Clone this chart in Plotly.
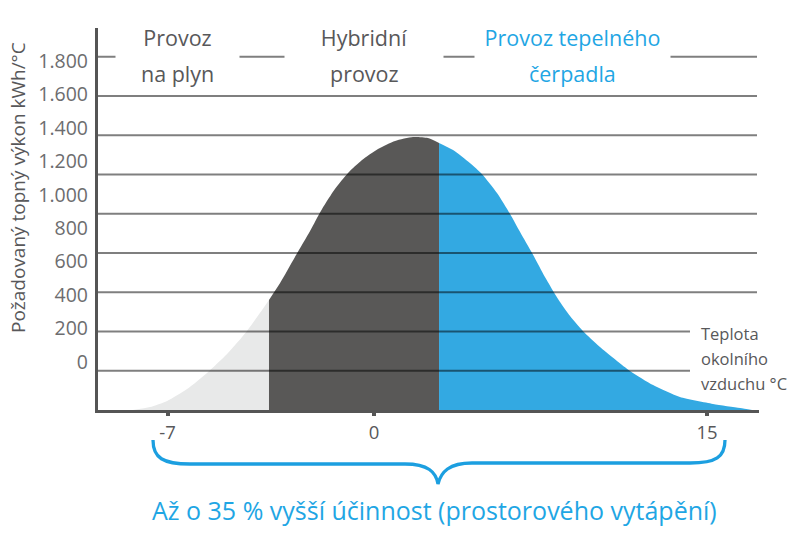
import plotly.graph_objects as go

# ---------------- data ----------------
# outdoor temperature (nominal axis units) and required heating load (kWh/°C)
temp_gas = [-10.86, -10.09, -9.32, -8.42, -7.52, -6.62, -5.72, -5.14, -4.73]
load_gas = [0, 15, 46, 107, 189, 285, 403, 494, 561]

temp_hybrid = [-4.73, -4.23, -3.56, -2.88, -2.34, -1.76, -1.17, -0.54, 0.18, 0.95, 1.76, 2.43, 2.93]
load_hybrid = [561, 647, 780, 912, 1024, 1126, 1208, 1274, 1330, 1371, 1391, 1386, 1361]

temp_hp = [2.93, 3.56, 4.32, 4.86, 5.54, 6.13, 6.58, 7.12, 7.70, 8.29, 8.83, 9.41, 10.18,
           11.53, 12.57, 13.78, 15.27, 16.49, 17.03]
load_hp = [1361, 1325, 1259, 1203, 1106, 999, 907, 800, 678, 566, 479, 403, 321,
           199, 127, 66, 31, 10, 0]

grid_levels = [200, 400, 600, 800, 1000, 1200, 1400, 1600, 1800]
y_tick_values = [0, 200, 400, 600, 800, 1000, 1200, 1400, 1600, 1800]
y_tick_labels = ["0", "200", "400", "600", "800", "1.000", "1.200", "1.400", "1.600", "1.800"]
x_tick_labels = ["-7", "0", "15"]
x_tick_pos = [-9.3, 0, 15]

heading_line1 = ["Provoz", "Hybridní", "Provoz tepelného"]
heading_line2 = ["na plyn", "provoz", "čerpadla"]
side_note = ["Teplota", "okolního", "vzduchu °C"]
y_title = "Požadovaný topný výkon kWh/°C"
bottom_text = "Až o 35 % vyšší účinnost (prostorového vytápění)"

# ---------------- styles / layout ----------------
W, H = 800, 533
L, R, T, B = 98, 759, 28, 410          # plot area in pixels
GREY_TXT = "#58585a"
LABEL_TXT = "#6d6d6f"
BLUE_TXT = "#1fa6e4"
BLUE_FILL = "#33a9e2"
DARK_FILL = "#595857"
LIGHT_FILL = "#e8e9e9"
AXIS = "#555555"
FONT = "Open Sans"


def px_x(p):
    return (p - L) / (R - L)


def px_y(p):
    return (B - p) / (B - T)


fig = go.Figure()
for xs, ys, col in [(temp_gas, load_gas, LIGHT_FILL),
                    (temp_hybrid, load_hybrid, DARK_FILL),
                    (temp_hp, load_hp, BLUE_FILL)]:
    fig.add_trace(go.Scatter(x=xs, y=ys, mode="lines", fill="tozeroy",
                             fillcolor=col, line=dict(width=0, shape="spline", smoothing=0.6),
                             hoverinfo="skip", showlegend=False))

# label axis overlay (labels are set off from the grid in the original)
fig.add_trace(go.Scatter(x=[None], y=[None], yaxis="y2", showlegend=False, hoverinfo="skip"))

x_px_per_unit = (707 - 374) / 15.0
x_range = [(L - 374) / x_px_per_unit, (R - 374) / x_px_per_unit]
y_units_per_px = 200 / 39.25
y_range = [0, (B - T) * y_units_per_px]
y2_units_per_px = 1800 / (362 - 61)
y2_range = [(362 - B) * y2_units_per_px, (362 - T) * y2_units_per_px]

shapes = []
for lvl in grid_levels:
    x_end = 690 if lvl <= 400 else 757
    shapes.append(dict(type="line", xref="paper", yref="y", x0=0, x1=px_x(x_end),
                       y0=lvl, y1=lvl, line=dict(color="rgba(0,0,0,0.5)", width=2),
                       layer="above"))

# curly brace under the axis
def P(x, y):
    return f"{px_x(x):.5f},{px_y(y):.5f}"

brace = ("M " + P(153, 440) + " C " + P(153, 458) + " " + P(163, 464) + " " + P(190, 464)
         + " L " + P(405, 464) + " C " + P(428, 464) + " " + P(436, 472) + " " + P(438, 484)
         + " C " + P(441, 472) + " " + P(449, 463) + " " + P(472, 463)
         + " L " + P(690, 463) + " C " + P(716, 463) + " " + P(725, 457) + " " + P(725, 440))
shapes.append(dict(type="path", xref="paper", yref="paper", path=brace,
                   line=dict(color="#1c9fe0", width=3.3)))

annotations = []
head_cx = [177, 364, 572]
head_gap = [123, 158, 195]
head_col = [GREY_TXT, GREY_TXT, BLUE_TXT]
for t1, t2, cx, gw, col in zip(heading_line1, heading_line2, head_cx, head_gap, head_col):
    annotations.append(dict(text=t1, xref="paper", yref="paper", x=px_x(cx), y=px_y(22),
                            xanchor="center", yanchor="top", showarrow=False,
                            width=gw, height=41, valign="top", bgcolor="white", borderpad=0,
                            font=dict(family=FONT, size=21.5, color=col)))
    annotations.append(dict(text=t2, xref="paper", yref="paper", x=px_x(cx), y=px_y(73),
                            xanchor="center", yanchor="middle", showarrow=False,
                            font=dict(family=FONT, size=21.5, color=col)))

for txt, cy in zip(side_note, [333, 358, 383]):
    annotations.append(dict(text=txt, xref="paper", yref="paper", x=px_x(699), y=px_y(cy),
                            xanchor="left", yanchor="middle", showarrow=False,
                            font=dict(family=FONT, size=16.5, color=GREY_TXT)))

annotations.append(dict(text=y_title, xref="paper", yref="paper", x=px_x(18), y=px_y(188),
                        xanchor="center", yanchor="middle", textangle=-90, showarrow=False,
                        font=dict(family=FONT, size=19, color=GREY_TXT)))
annotations.append(dict(text=bottom_text, xref="paper", yref="paper", x=px_x(434), y=px_y(510),
                        xanchor="center", yanchor="middle", showarrow=False,
                        font=dict(family=FONT, size=25, color=BLUE_TXT)))

fig.update_layout(
    width=W, height=H, margin=dict(l=L, r=W - R, t=T, b=H - B, pad=0),
    paper_bgcolor="white", plot_bgcolor="white",
    font=dict(family=FONT, color=GREY_TXT),
    xaxis=dict(range=x_range, tickmode="array", tickvals=x_tick_pos, ticktext=x_tick_labels,
               ticks="outside", ticklen=3, tickwidth=4, tickcolor=AXIS,
               showline=True, linewidth=3, linecolor=AXIS, showgrid=False, zeroline=False,
               tickfont=dict(family=FONT, size=18.5, color=GREY_TXT), ticklabelstandoff=1,
               fixedrange=True),
    yaxis=dict(range=y_range, showticklabels=False, ticks="", showline=True, linewidth=3,
               linecolor=AXIS, showgrid=False, zeroline=False, fixedrange=True),
    yaxis2=dict(range=y2_range, overlaying="y", side="left", anchor="x", showline=False,
                showgrid=False, zeroline=False, ticks="", tickmode="array",
                tickvals=y_tick_values, ticktext=y_tick_labels, ticklabelstandoff=9,
                tickfont=dict(family=FONT, size=19.5, color=LABEL_TXT), fixedrange=True),
    shapes=shapes, annotations=annotations, showlegend=False,
)

fig.write_html("out.html")
